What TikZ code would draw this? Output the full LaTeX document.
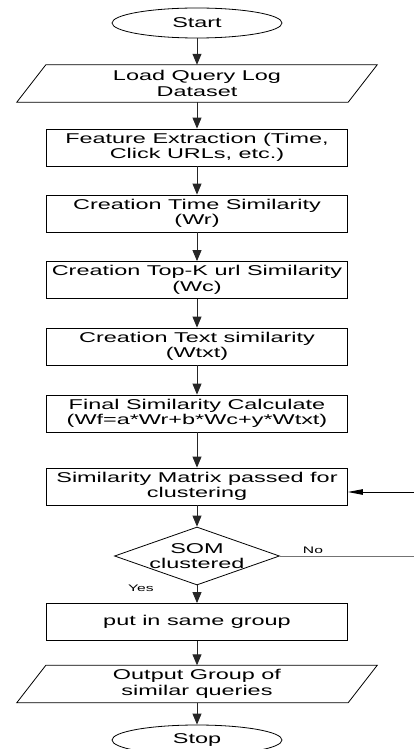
\documentclass[tikz,border=0pt]{standalone}
\usepackage{fontspec}
\setmainfont[FakeStretch=1.65]{Liberation Sans}
\usetikzlibrary{shapes.geometric,arrows.meta}
\begin{document}
\begin{tikzpicture}[x=1pt,y=-1pt,
  every node/.style={font=\fontsize{14.2}{15.5}\selectfont, align=center, inner sep=0pt},
  procbox/.style={draw, rectangle, minimum width=301pt, minimum height=37pt, line width=0.8pt},
  iobox/.style={minimum width=331pt, minimum height=37pt},
  iooutline/.style={line width=0.8pt},
  term/.style={draw, ellipse, minimum width=170pt, minimum height=30pt, line width=0.8pt},
  flow/.style={-{Triangle[length=11pt,width=9pt]}, line width=0.9pt, black!85},
  small/.style={font=\fontsize{9.5}{11}\selectfont}
]
\useasboundingbox (0,0) rectangle (414,749);

\node[term] (start) at (197,23) {Start};
\node[iobox] (load) at (197,83.5) {Load Query Log\\Dataset};
\draw[iooutline] ([xshift=14.5pt]load.north west) -- ([xshift=14.5pt]load.north east) -- ([xshift=-14.5pt]load.south east) -- ([xshift=-14.5pt]load.south west) -- cycle;
\node[procbox] (feat) at (197,147.5) {Feature Extraction (Time,\\Click URLs, etc.)};
\node[procbox] (time) at (197,213.5) {Creation Time Similarity\\(Wr)};
\node[procbox] (topk) at (197,280) {Creation Top-K url Similarity\\(Wc)};
\node[procbox] (text) at (197,346.5) {Creation Text similarity\\(Wtxt)};
\node[procbox] (final) at (197,413.5) {Final Similarity Calculate\\(Wf=a*Wr+b*Wc+y*Wtxt)};
\node[procbox] (matrix) at (197,486.5) {Similarity Matrix passed for\\clustering};
\node[draw, diamond, minimum width=165pt, minimum height=58pt, line width=0.8pt,
      label={[align=center]center:SOM\\clustered}] (som) at (197,556) {};
\node[procbox] (put) at (197,622) {put in same group};
\node[iobox] (out) at (197,684) {Output Group of\\similar queries};
\draw[iooutline] ([xshift=14.5pt]out.north west) -- ([xshift=14.5pt]out.north east) -- ([xshift=-14.5pt]out.south east) -- ([xshift=-14.5pt]out.south west) -- cycle;
\node[term] (stop) at (197,740) {Stop};

\draw[flow] (start) -- (load);
\draw[flow] (load) -- (feat);
\draw[flow] (feat) -- (time);
\draw[flow] (time) -- (topk);
\draw[flow] (topk) -- (text);
\draw[flow] (text) -- (final);
\draw[flow] (final) -- (matrix);
\draw[flow] (matrix) -- (som);
\draw[flow] (som) -- (put);
\draw[flow] (put) -- (out);
\draw[flow] (out) -- (stop);

\coordinate (noend) at (414,556);
\draw[line width=0.9pt, black!55] (som.east) -- (noend);
\node[small] (nolab) at (313,550) {No};
\node[small] (yeslab) at (141,588) {Yes};
\coordinate (fbstart) at (414,492);
\draw[-{Triangle[length=15pt,width=5.5pt]}, line width=0.8pt] (fbstart) -- (fbstart -| matrix.east);
\end{tikzpicture}
\end{document}
